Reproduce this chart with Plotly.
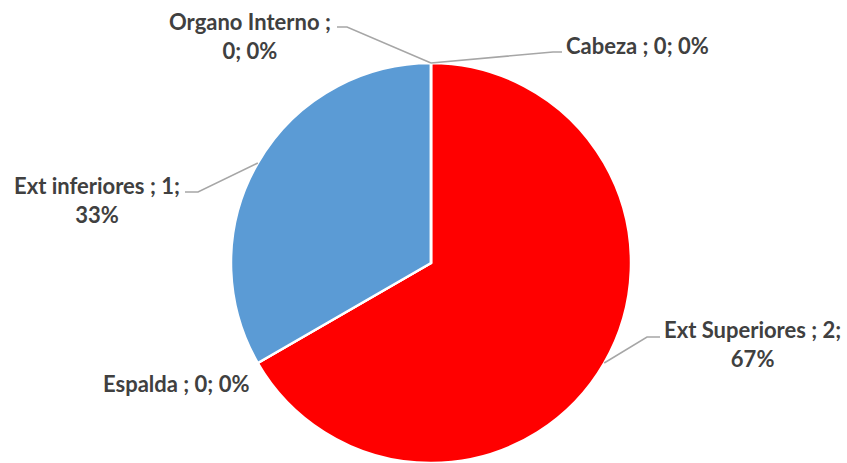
import math
import plotly.graph_objects as go

# Injury location counts
categories = ["Cabeza", "Ext Superiores", "Espalda", "Ext inferiores", "Organo Interno"]
counts = [0, 2, 0, 1, 0]
colors = ["#4472C4", "#FF0000", "#A5A5A5", "#5B9BD5", "#ED7D31"]

W, H = 847, 463
CX, CY, R = 431, 263, 200  # pie centre and radius in pixels

# Label placement (pixel centre of the text block) and line-break style
label_pos = {
    "Cabeza": (637, 45, "none"),
    "Ext Superiores": (752, 344, "value"),
    "Espalda": (176, 383, "none"),
    "Ext inferiores": (97, 200, "value"),
    "Organo Interno": (250, 36, "name"),
}
# Leader line elbows (pixels): (elbow, end next to text), or None
leader_elbows = {
    "Cabeza": [(553, 52), (562, 52)],
    "Ext Superiores": [(647, 337), (660, 337)],
    "Espalda": None,
    "Ext inferiores": [(198, 192), (185, 192)],
    "Organo Interno": [(347, 27), (337, 27)],
}


def px(x):
    return x / W


def py(y):
    return 1 - y / H


total = sum(counts)

fig = go.Figure(
    go.Pie(
        labels=categories,
        values=counts,
        sort=False,
        direction="clockwise",
        rotation=0,
        marker=dict(colors=colors, line=dict(color="white", width=2.5)),
        textinfo="none",
        hoverinfo="label+value+percent",
        domain=dict(x=[px(CX - R), px(CX + R)], y=[py(CY + R), py(CY - R)]),
        showlegend=False,
    )
)

annotations = []
shapes = []
cum = 0
for name, v in zip(categories, counts):
    mid = (cum + v / 2) / total * 2 * math.pi
    cum += v
    pct = round(v / total * 100)
    x, y, brk = label_pos[name]
    if brk == "name":
        text = f"{name} ;<br>{v}; {pct}%"
    elif brk == "value":
        text = f"{name} ; {v};<br>{pct}%"
    else:
        text = f"{name} ; {v}; {pct}%"
    annotations.append(
        dict(
            x=px(x), y=py(y), xref="paper", yref="paper",
            text=f"<b>{text}</b>", showarrow=False,
            xanchor="center", yanchor="middle", align="center",
            font=dict(family="Lato", size=22, color="#404040"),
        )
    )
    elbow = leader_elbows[name]
    if elbow:
        ax = CX + R * math.sin(mid)
        ay = CY - R * math.cos(mid)
        pts = [(ax, ay)] + elbow
        path = "M " + " L ".join(f"{px(a)},{py(b)}" for a, b in pts)
        shapes.append(
            dict(type="path", xref="paper", yref="paper", path=path,
                 line=dict(color="#A6A6A6", width=1.5))
        )

fig.update_layout(
    width=W, height=H,
    margin=dict(l=0, r=0, t=0, b=0),
    paper_bgcolor="white",
    plot_bgcolor="white",
    annotations=annotations,
    shapes=shapes,
)

fig.write_html("out.html")
